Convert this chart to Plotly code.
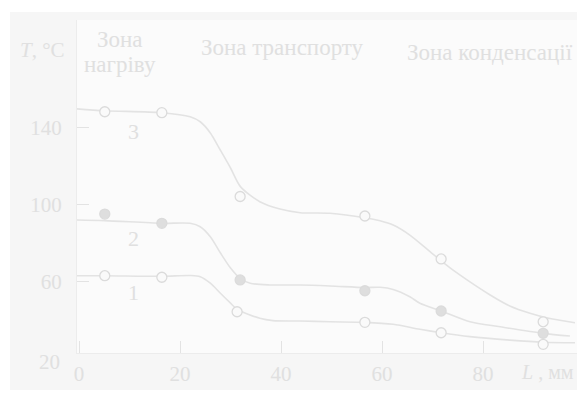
import plotly.graph_objects as go

# Temperature profiles along the heat pipe, T (°C) versus length L (mm)
# Curve 3 (highest heating), open markers
c3_line_L = [-0.4, 5.1, 16.4, 22.0, 24.0, 26.0, 28.0, 30.0, 32.0, 35.8, 39.8, 43.8, 49.7, 56.6, 59.6, 62.2, 65.5, 69.5, 72.0, 75.4, 81.4, 85.3, 89.3, 93.0, 98.2]
c3_line_T = [149.5, 148.5, 147.5, 145.4, 142.8, 137.0, 128.0, 118.8, 109.0, 101.3, 97.5, 95.6, 95.3, 93.0, 91.4, 89.2, 84.0, 75.4, 70.0, 63.3, 52.9, 47.2, 43.4, 40.8, 38.5]
c3_pts_L = [5.1, 16.4, 31.9, 56.6, 71.7, 91.9]
c3_pts_T = [148.0, 147.5, 104.0, 93.9, 71.6, 39.0]

# Curve 2, filled markers
c2_line_L = [-0.4, 5.1, 16.4, 22.0, 24.0, 26.0, 28.0, 30.0, 31.9, 33.9, 37.8, 43.8, 49.7, 56.6, 59.6, 62.2, 65.5, 67.5, 71.7, 77.4, 83.4, 91.9, 97.2]
c2_line_T = [91.8, 91.5, 90.1, 90.1, 88.3, 83.1, 74.7, 66.9, 61.5, 59.0, 58.1, 58.1, 57.6, 56.8, 56.9, 55.8, 52.0, 48.6, 44.6, 39.0, 36.4, 33.0, 31.6]
c2_pts_L = [5.1, 16.4, 31.9, 56.6, 71.7, 91.9]
c2_pts_T = [94.9, 90.1, 60.7, 55.1, 44.6, 33.0]

# Curve 1 (lowest heating), open markers
c1_line_L = [-0.4, 5.1, 16.4, 22.0, 24.0, 26.0, 28.0, 30.0, 31.3, 35.8, 38.4, 43.8, 49.7, 56.6, 62.2, 67.5, 71.7, 77.4, 85.3, 91.9, 98.2]
c1_line_T = [62.9, 62.9, 62.6, 63.0, 62.4, 59.0, 53.8, 48.7, 45.5, 40.8, 39.6, 39.4, 39.0, 38.7, 37.7, 35.1, 33.3, 31.3, 29.5, 28.4, 28.1]
c1_pts_L = [5.1, 16.4, 31.3, 56.6, 71.7, 91.9]
c1_pts_T = [62.9, 62.1, 44.2, 38.7, 33.3, 27.3]

x_ticks = [0, 20, 40, 60, 80]
y_ticks = [60, 100, 140]
zone_bounds = [22.6, 62.2]
curve_names = ["3", "2", "1"]
curve_label_L = [10.8, 10.8, 10.8]
curve_label_T = [138.0, 82.0, 54.0]

LINE = "#e3e3e3"
TEXT = "#e0e0e0"
MARK = "#dbdbdb"
SERIF = "Liberation Serif, Times New Roman, serif"

fig = go.Figure()

# zone boundaries
for b in zone_bounds:
    fig.add_shape(type="line", xref="x", yref="paper", x0=b, x1=b, y0=0, y1=0.93,
                  line=dict(color="#e4e4e4", width=1, dash="dot"), layer="below")

for lx, ly in [(c3_line_L, c3_line_T), (c2_line_L, c2_line_T), (c1_line_L, c1_line_T)]:
    fig.add_trace(go.Scatter(x=lx, y=ly, mode="lines", line=dict(color=LINE, width=1.6, shape="spline", smoothing=0.8),
                             hoverinfo="skip", showlegend=False))

for px, py, fill in [(c3_pts_L, c3_pts_T, "#fafafa"), (c2_pts_L, c2_pts_T, "#dedede"), (c1_pts_L, c1_pts_T, "#fafafa")]:
    fig.add_trace(go.Scatter(x=px, y=py, mode="markers",
                             marker=dict(symbol="circle", size=10, color=fill, line=dict(color=MARK, width=1.3)),
                             showlegend=False))

# curve numbers
for name, lx, ly in zip(curve_names, curve_label_L, curve_label_T):
    fig.add_annotation(x=lx, y=ly, text=name, showarrow=False, font=dict(family=SERIF, size=22, color=TEXT))


def note(text, x, y, size, xanchor="center"):
    fig.add_annotation(x=x, y=y, xref="paper", yref="paper", text=text, showarrow=False,
                       xanchor=xanchor, yanchor="middle", font=dict(family=SERIF, size=size, color=TEXT))


# zone headings
note("Зона", 0.086, 0.94, 23)
note("нагріву", 0.086, 0.865, 23)
note("Зона транспорту", 0.41, 0.916, 23)
note("Зона конденсації", 0.826, 0.901, 23)

# axis titles
note("<i>T</i>, °C", -0.118, 0.91, 21, xanchor="left")
note("<i>L</i> , мм", 0.884, -0.057, 20, xanchor="left")
# lowest temperature label sits on the corner below the axis
note("20", -0.03, -0.027, 21, xanchor="right")

# background panels
fig.add_shape(type="rect", xref="paper", yref="paper", x0=-0.134, x1=1.0, y0=-0.111, y1=1.024,
              fillcolor="#f6f6f6", line=dict(width=0), layer="below")
fig.add_shape(type="rect", xref="paper", yref="paper", x0=0.0, x1=1.0, y0=0.0, y1=1.0,
              fillcolor="#fbfbfb", line=dict(width=0), layer="below")

fig.update_layout(
    width=577, height=394,
    margin=dict(l=77, r=0, t=20, b=41),
    paper_bgcolor="white", plot_bgcolor="rgba(0,0,0,0)",
    showlegend=False,
    xaxis=dict(range=[-0.4, 98.6], tickvals=x_ticks, ticktext=[str(v) for v in x_ticks],
               ticks="inside", ticklen=12, tickcolor=LINE, showline=True, linecolor="#ececec",
               showgrid=False, zeroline=False, ticklabelstandoff=2,
               tickfont=dict(family=SERIF, size=21, color=TEXT)),
    yaxis=dict(range=[22.8, 195.6], tickvals=y_ticks, ticktext=[str(v) for v in y_ticks],
               ticks="inside", ticklen=12, tickcolor=LINE, showline=True, linecolor="#ececec",
               showgrid=False, zeroline=False, ticklabelstandoff=10,
               tickfont=dict(family=SERIF, size=21, color=TEXT)),
)

fig.write_html("out.html")
